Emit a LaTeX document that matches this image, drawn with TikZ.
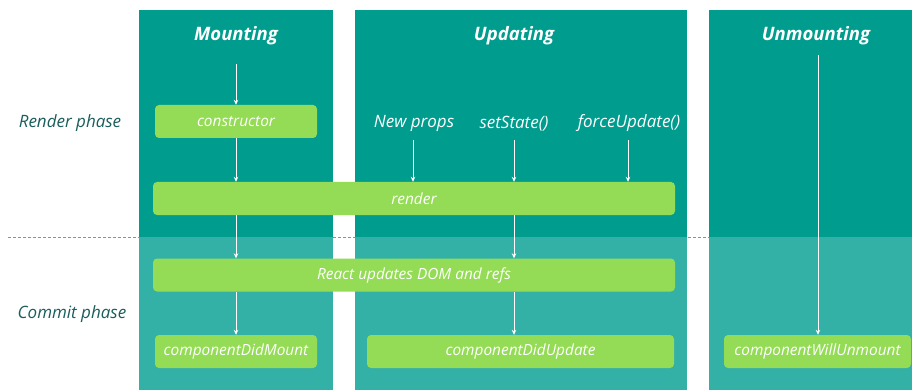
\documentclass[tikz,border=0pt]{standalone}
\usepackage{fontspec}
\setmainfont{Open Sans}
\usetikzlibrary{arrows.meta}
\definecolor{tealdark}{HTML}{009D8E}
\definecolor{teallight}{HTML}{33B1A6}
\definecolor{boxgreen}{HTML}{94DC55}
\definecolor{phasetext}{HTML}{195E5C}
\definecolor{dashcol}{HTML}{6E9E9C}
\tikzset{
  box/.style={fill=boxgreen, rounded corners=4pt, inner sep=0pt, text=white,
    font=\fontsize{15.4}{17}\selectfont\itshape, minimum height=33pt},
  coltitle/.style={text=white, font=\fontsize{18.5}{20}\selectfont\bfseries\itshape, inner sep=1pt},
  trig/.style={text=white, font=\fontsize{17}{19}\selectfont\itshape, inner sep=1pt},
  phase/.style={text=phasetext, font=\fontsize{17}{19}\selectfont\itshape, inner sep=1pt},
  arr/.style={draw=white, line width=0.8pt, -{Stealth[length=5pt,width=4.5pt]}}
}
\begin{document}
\begin{tikzpicture}[x=1pt,y=-1pt]
\useasboundingbox (0,0) rectangle (912,390);
\fill[white] (0,0) rectangle (912,390);
% dashed phase separator
\draw[dashcol, dashed, line width=0.7pt, dash pattern=on 3pt off 2pt] (8,237) -- (912,237);
% columns
\fill[tealdark] (139,10) rectangle (333,237);
\fill[teallight] (139,237) rectangle (333,390);
\fill[tealdark] (355,10) rectangle (687,237);
\fill[teallight] (355,237) rectangle (687,390);
\fill[tealdark] (709,10) rectangle (912,237);
\fill[teallight] (709,237) rectangle (912,390);
% titles
\node[coltitle] (mt) at (236,35.5) {Mounting};
\node[coltitle] (ut) at (514,35.5) {Updating};
\node[coltitle] (umt) at (816,35.5) {Unmounting};
% phases
\node[phase] (rp) at (70,123.5) {Render phase};
\node[phase] (cp) at (72,314.5) {Commit phase};
% triggers
\node[trig] (np) at (414,123.5) {New props};
\node[trig] (ss) at (514,123.5) {setState()};
\node[trig] (fu) at (629,123.5) {forceUpdate()};
% boxes
\node[box, minimum width=162pt] (ctor) at (236,121.5) {constructor};
\node[box, minimum width=522pt] (render) at (414,198.5) {render};
\node[box, minimum width=522pt] (react) at (414,275) {React updates DOM and refs};
\node[box, minimum width=162pt] (cdm) at (236,351.5) {componentDidMount};
\node[box, minimum width=307pt] (cdu) at (520.5,351.5) {componentDidUpdate};
\node[box, minimum width=187pt] (cwu) at (817.5,351.5) {componentWillUnmount};
% arrows
\coordinate (m0) at (236,64);
\coordinate (u0) at (818,55);
\coordinate (np0) at (413,140);
\coordinate (ss0) at (514,140);
\coordinate (fu0) at (628,140);
\draw[arr] (m0) -- (ctor.north);
\draw[arr] (ctor.south) -- (ctor.south |- render.north);
\draw[arr] (ctor.south |- render.south) -- (ctor.south |- react.north);
\draw[arr] (cdm.north |- react.south) -- (cdm.north);
\draw[arr] (np0) -- (np0 |- render.north);
\draw[arr] (ss0) -- (ss0 |- render.north);
\draw[arr] (fu0) -- (fu0 |- render.north);
\draw[arr] (ss0 |- render.south) -- (ss0 |- react.north);
\draw[arr] (ss0 |- react.south) -- (ss0 |- cdu.north);
\draw[arr] (u0) -- (u0 |- cwu.north);
\end{tikzpicture}
\end{document}
